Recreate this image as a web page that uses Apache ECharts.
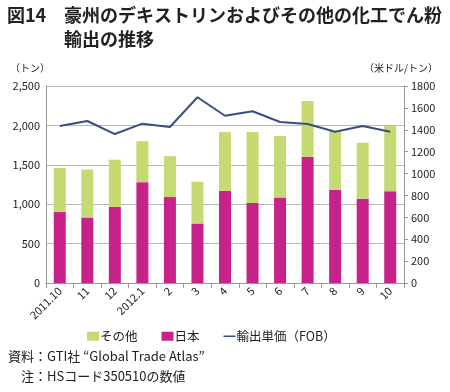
<!DOCTYPE html>
<html><head><meta charset="utf-8">
<script src="https://cdn.jsdelivr.net/npm/echarts@6/dist/echarts.min.js"></script>
<style>html,body{margin:0;padding:0;background:#fff}#c{width:450px;height:392px}</style>
</head><body><div id="c"></div>
<script>
const categories = ['2011.10','11','12','2012.1','2','3','4','5','6','7','8','9','10'];
const japan = [900, 830, 965, 1280, 1090, 755, 1170, 1015, 1085, 1600, 1180, 1070, 1165];
const others = [560, 610, 600, 520, 520, 530, 745, 900, 780, 710, 750, 710, 830];
const unitPrice = [1434, 1480, 1361, 1456, 1425, 1697, 1528, 1569, 1471, 1453, 1382, 1434, 1382];
const leftTicks = {min: 0, max: 2500, interval: 500};
const rightTicks = {min: 0, max: 1800, interval: 200};

const font = '"Noto Sans CJK JP", "Noto Sans", sans-serif';
const chart = echarts.init(document.getElementById('c'), null, {renderer: 'canvas'});
chart.setOption({
  animation: false,
  textStyle: {fontFamily: font},
  grid: {left: 46, right: 46, top: 86, bottom: 109},
  legend: {
    left: 82, top: 325, itemGap: 24, itemWidth: 12, itemHeight: 9,
    textStyle: {fontFamily: font, fontSize: 12.5, color: '#222', padding: [0,0,0,-4]},
    data: [
      {name: 'その他', icon: 'rect'},
      {name: '日本', icon: 'rect'},
      {name: '輸出単価（FOB）', icon: 'path://M0,4 L12,4 L12,5.5 L0,5.5 Z'}
    ]
  },
  xAxis: {
    type: 'category', data: categories,
    axisLine: {lineStyle: {color: '#999'}},
    axisTick: {show: true, interval: 0, alignWithLabel: false, lineStyle: {color: '#999'}},
    axisLabel: {rotate: 45, interval: 0, fontSize: 11, color: '#222', margin: 6, fontFamily: font}
  },
  yAxis: [
    {type: 'value', ...leftTicks,
     axisLine: {show: true, lineStyle: {color: '#999'}},
     axisTick: {show: false},
     splitLine: {lineStyle: {color: '#b8b8b8'}},
     axisLabel: {fontSize: 11, color: '#222', margin: 6, formatter: v => v.toLocaleString('en-US')}},
    {type: 'value', ...rightTicks,
     axisLine: {show: true, lineStyle: {color: '#999'}},
     axisTick: {show: true, inside: false, length: 4, lineStyle: {color: '#999'}},
     splitLine: {show: false},
     axisLabel: {fontSize: 11, color: '#222', margin: 7, formatter: v => String(v)}}
  ],
  series: [
    {name: '日本', type: 'bar', stack: 's', data: japan, barWidth: 12,
     itemStyle: {color: '#C7228A'}},
    {name: 'その他', type: 'bar', stack: 's', data: others, barWidth: 12,
     itemStyle: {color: '#C5DA72'}},
    {name: '輸出単価（FOB）', type: 'line', yAxisIndex: 1, data: unitPrice,
     symbol: 'none', lineStyle: {color: '#3A4E85', width: 2}, itemStyle: {color: '#3A4E85'}}
  ],
  graphic: [
    {type: 'text', left: 7, top: 6, style: {text: '図14', fontSize: 18, fontWeight: 'bold', fill: '#222', fontFamily: font}},
    {type: 'text', left: 64, top: 6, style: {text: '豪州のデキストリンおよびその他の化工でん粉', fontSize: 18, fontWeight: 'bold', fill: '#222', fontFamily: font}},
    {type: 'text', left: 64, top: 30, style: {text: '輸出の推移', fontSize: 18, fontWeight: 'bold', fill: '#222', fontFamily: font}},
    {type: 'text', left: 10, top: 63, style: {text: '（トン）', fontSize: 10, fill: '#222', fontFamily: font}},
    {type: 'text', right: 12, top: 63, style: {text: '（米ドル/トン）', fontSize: 10, fill: '#222', fontFamily: font}},
    {type: 'text', left: 8, top: 350, style: {text: '資料：GTI社 “Global Trade Atlas”', fontSize: 13, fill: '#222', fontFamily: font}},
    {type: 'text', left: 21, top: 370, style: {text: '注：HSコード350510の数値', fontSize: 13, fill: '#222', fontFamily: font}}
  ]
});
</script></body></html>
